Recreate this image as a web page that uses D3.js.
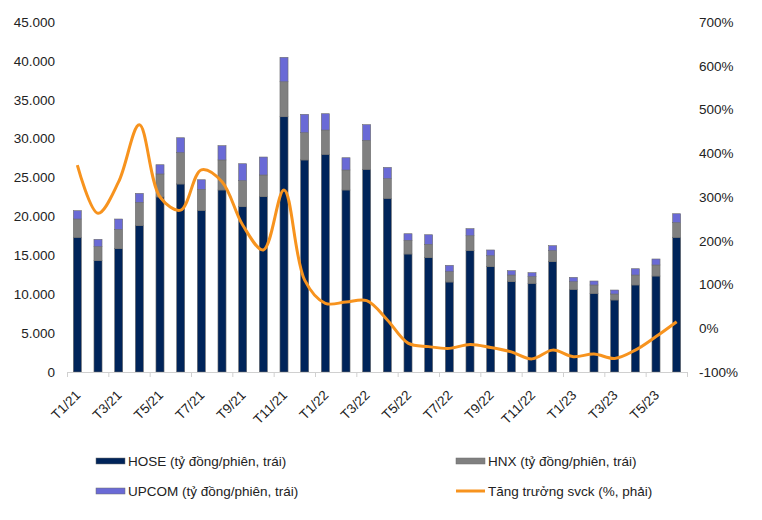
<!DOCTYPE html>
<html>
<head>
<meta charset="utf-8">
<script src="https://cdn.jsdelivr.net/npm/d3@7/dist/d3.min.js"></script>
<style>
  html, body { margin: 0; padding: 0; background: #fff; }
  svg { display: block; font-family: "Liberation Sans", Arial, sans-serif; }
</style>
</head>
<body>
<svg id="chart" width="762" height="520"></svg>
<script>
const months = ["T1/21","T2/21","T3/21","T4/21","T5/21","T6/21","T7/21","T8/21","T9/21","T10/21","T11/21","T12/21",
  "T1/22","T2/22","T3/22","T4/22","T5/22","T6/22","T7/22","T8/22","T9/22","T10/22","T11/22","T12/22",
  "T1/23","T2/23","T3/23","T4/23","T5/23","T6/23"];
const hose  = [17320,14310,15860,18810,22500,24170,20790,23400,21250,22540,32820,27260,
  27990,23400,26060,22330,15170,14700,11570,15600,13540,11610,11400,14180,
  10630,10110,9260,11190,12340,17320];
const hnx   = [2350,1800,2480,3000,2960,4030,2700,3860,3350,2790,4500,3510,
  3120,2570,3730,2530,1760,1720,1330,1920,1410,860,860,1420,
  980,1080,770,1280,1420,1880];
const upcom = [1070,950,1330,1160,1190,1920,1230,1840,2180,2310,3140,2360,
  2100,1580,2010,1450,850,1230,820,910,740,560,510,640,
  560,510,510,810,770,1150];
const growth = [373,263,335,465,300,270,362,335,236,179,316,110,
  57,60,63,19,-34,-42,-46,-37,-44,-54,-70,-50,
  -65,-59,-69,-50,-19,15];
const leftTicks = [0,5000,10000,15000,20000,25000,30000,35000,40000,45000];
const rightTicks = [-100,0,100,200,300,400,500,600,700];
const seriesNames = ["HOSE (tỷ đồng/phiên, trái)","HNX (tỷ đồng/phiên, trái)","UPCOM (tỷ đồng/phiên, trái)","Tăng trưởng svck (%, phải)"];

const colors = { hose: "#00245a", hnx: "#808080", upcom: "#6a6ad6", line: "#f7931e" };

const svg = d3.select("#chart");
const m = { left: 67, right: 687, top: 22, bottom: 372 };

const x = d3.scaleBand().domain(months).range([m.left, m.right]).paddingInner(0.61).paddingOuter(0.305);
const yL = d3.scaleLinear().domain([0, 45000]).range([m.bottom, m.top]);
const yR = d3.scaleLinear().domain([-100, 700]).range([m.bottom, m.top]);

const rows = months.map((mo, i) => ({ month: mo, hose: hose[i], hnx: hnx[i], upcom: upcom[i] }));
const stack = d3.stack().keys(["hose","hnx","upcom"])(rows);

// Left axis labels
const fmt = v => d3.format(",")(v).replace(/,/g, ".");
const gL = svg.append("g").attr("transform", `translate(${m.left - 8},0)`)
  .call(d3.axisLeft(yL).tickValues(leftTicks).tickFormat(fmt).tickSize(0).tickPadding(4));
gL.select(".domain").remove();
gL.selectAll("text").attr("font-size", 13.5).attr("fill", "#222").attr("font-family", "Liberation Sans, Arial, sans-serif");

// Right axis labels
const gR = svg.append("g").attr("transform", `translate(${m.right + 8},0)`)
  .call(d3.axisRight(yR).tickValues(rightTicks).tickFormat(d => d + "%").tickSize(0).tickPadding(4));
gR.select(".domain").remove();
gR.selectAll("text").attr("font-size", 13.5).attr("fill", "#222").attr("font-family", "Liberation Sans, Arial, sans-serif");

// Bars
svg.append("g").selectAll("g").data(stack).join("g")
  .attr("fill", d => colors[d.key])
  .selectAll("rect").data(d => d).join("rect")
  .attr("x", d => x(d.data.month))
  .attr("width", x.bandwidth())
  .attr("y", d => yL(d[1]))
  .attr("height", d => yL(d[0]) - yL(d[1]))
  .attr("stroke", "#6d6d6d")
  .attr("stroke-width", 0.6);

// X axis line + tick marks at every second boundary
const xi = d3.scaleLinear().domain([0, months.length]).range([m.left, m.right]);
const gT = svg.append("g").attr("transform", `translate(0,${m.bottom})`)
  .call(d3.axisBottom(xi).tickValues(d3.range(0, months.length + 1, 2)).tickFormat("").tickSize(5).tickSizeOuter(0));
gT.selectAll("path,line").attr("stroke", "#d0d0d0");

// X labels
const gX = svg.append("g").attr("transform", `translate(0,${m.bottom})`)
  .call(d3.axisBottom(x).tickValues(months.filter((d, i) => i % 2 === 0)).tickSize(0).tickPadding(0));
gX.select(".domain").remove();
gX.selectAll("text")
  .attr("font-size", 13.5).attr("fill", "#222").attr("font-family", "Liberation Sans, Arial, sans-serif")
  .attr("text-anchor", "end")
  .attr("dy", 0)
  .attr("transform", "translate(4,24) rotate(-45)");

// Line
const line = d3.line()
  .x((d, i) => x(months[i]) + x.bandwidth() / 2)
  .y(d => yR(d))
  .curve(d3.curveCatmullRom.alpha(0.5));
svg.append("path").datum(growth)
  .attr("d", line)
  .attr("fill", "none")
  .attr("stroke", colors.line)
  .attr("stroke-width", 3)
  .attr("stroke-linejoin", "round");

// Legend
const legend = [
  { name: seriesNames[0], type: "rect", color: colors.hose, x: 96, y: 461 },
  { name: seriesNames[1], type: "rect", color: colors.hnx, x: 456, y: 461 },
  { name: seriesNames[2], type: "rect", color: colors.upcom, x: 96, y: 491 },
  { name: seriesNames[3], type: "line", color: colors.line, x: 456, y: 491 }
];
const lg = svg.append("g").selectAll("g").data(legend).join("g")
  .attr("transform", d => `translate(${d.x},${d.y})`);
lg.filter(d => d.type === "rect").append("rect")
  .attr("x", 0).attr("y", -3).attr("width", 29).attr("height", 6)
  .attr("fill", d => d.color).attr("stroke", "#6d6d6d").attr("stroke-width", 0.5);
lg.filter(d => d.type === "line").append("line")
  .attr("x1", 0).attr("x2", 29).attr("y1", 0).attr("y2", 0)
  .attr("stroke", d => d.color).attr("stroke-width", 3);
lg.append("text")
  .attr("x", 32).attr("y", 0).attr("dy", "0.35em")
  .attr("font-size", 13.5).attr("fill", "#222")
  .text(d => d.name);
</script>
</body>
</html>
